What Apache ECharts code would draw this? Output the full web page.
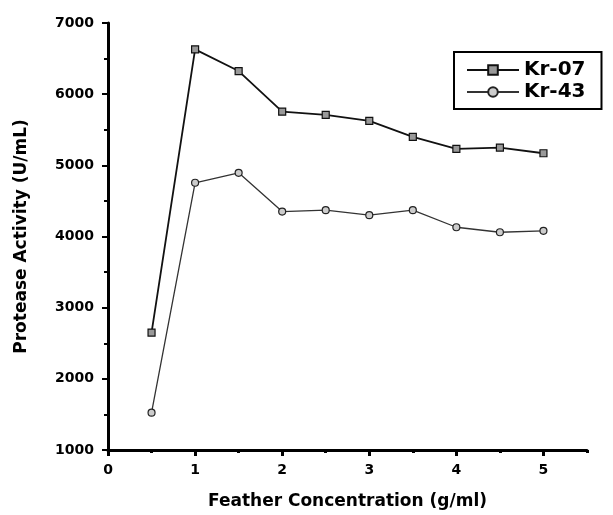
<!DOCTYPE html>
<html>
<head>
<meta charset="utf-8">
<script src="https://cdn.jsdelivr.net/npm/echarts@6/dist/echarts.min.js"></script>
<style>html,body{margin:0;padding:0;background:#fff;}#chart{width:613px;height:515px;}</style>
</head>
<body>
<div id="chart"></div>
<script>
var concentration = [0.5, 1, 1.5, 2, 2.5, 3, 3.5, 4, 4.5, 5];
var kr07 = [2650, 6630, 6325, 5755, 5710, 5625, 5400, 5230, 5250, 5170];
var kr43 = [1525, 4755, 4895, 4350, 4370, 4300, 4370, 4130, 4060, 4080];
var xMajorTicks = [0, 1, 2, 3, 4, 5];
var xMinorTicks = [0.5, 1.5, 2.5, 3.5, 4.5, 5.5];
var seriesNames = ['Kr-07', 'Kr-43'];

function pairs(xs, ys) { return xs.map(function (x, i) { return [x, ys[i]]; }); }

var chart = echarts.init(document.getElementById('chart'));
var fontBold = { fontFamily: 'DejaVu Sans', fontWeight: 'bold', color: '#000' };
chart.setOption({
  animation: false,
  backgroundColor: '#fff',
  grid: { left: 108, right: 26, top: 23, bottom: 64 },
  legend: {
    orient: 'vertical', left: 454, top: 52,
    padding: [8, 16, 7, 12],
    itemGap: 2, itemWidth: 52, itemHeight: 12,
    borderColor: '#000', borderWidth: 2, backgroundColor: '#fff',
    textStyle: { fontFamily: 'DejaVu Sans', fontWeight: 'bold', fontSize: 20, color: '#000' },
    data: seriesNames
  },
  xAxis: [{
    type: 'value', min: 0, max: 5.5, interval: 1,
    name: 'Feather Concentration (g/ml)', nameLocation: 'middle', nameGap: 43,
    nameTextStyle: Object.assign({ fontSize: 17 }, fontBold),
    axisLine: { show: true, lineStyle: { color: '#000', width: 3 } },
    axisTick: { show: true, inside: false, length: 6, customValues: xMajorTicks, lineStyle: { color: '#000', width: 3 } },
    axisLabel: Object.assign({ fontSize: 14, margin: 13, customValues: xMajorTicks }, fontBold),
    splitLine: { show: false }
  }, {
    type: 'value', min: 0, max: 5.5, position: 'bottom',
    axisLine: { show: false },
    axisTick: { show: true, length: 3, customValues: xMinorTicks, lineStyle: { color: '#000', width: 3 } },
    axisLabel: { show: false },
    splitLine: { show: false }
  }],
  yAxis: {
    type: 'value', min: 1000, max: 7000, interval: 1000,
    name: 'Protease Activity (U/mL)', nameLocation: 'middle', nameGap: 78, nameRotate: 90,
    nameTextStyle: Object.assign({ fontSize: 17 }, fontBold),
    axisLine: { show: true, lineStyle: { color: '#000', width: 3 } },
    axisTick: { show: true, length: 6, lineStyle: { color: '#000', width: 2 } },
    minorTick: { show: true, splitNumber: 2, length: 4, lineStyle: { color: '#000', width: 2 } },
    axisLabel: Object.assign({ fontSize: 14, margin: 14, formatter: function (v) { return String(v); } }, fontBold),
    splitLine: { show: false }
  },
  series: [{
    name: seriesNames[0], type: 'line', xAxisIndex: 0,
    data: pairs(concentration, kr07),
    symbol: 'rect', symbolSize: 7,
    lineStyle: { color: '#111', width: 1.8 },
    itemStyle: { color: '#999', borderColor: '#111', borderWidth: 1.2 }
  }, {
    name: seriesNames[1], type: 'line', xAxisIndex: 0,
    data: pairs(concentration, kr43),
    symbol: 'circle', symbolSize: 7,
    lineStyle: { color: '#333', width: 1.3 },
    itemStyle: { color: '#ccc', borderColor: '#222', borderWidth: 1.2 }
  }]
});
</script>
</body>
</html>
